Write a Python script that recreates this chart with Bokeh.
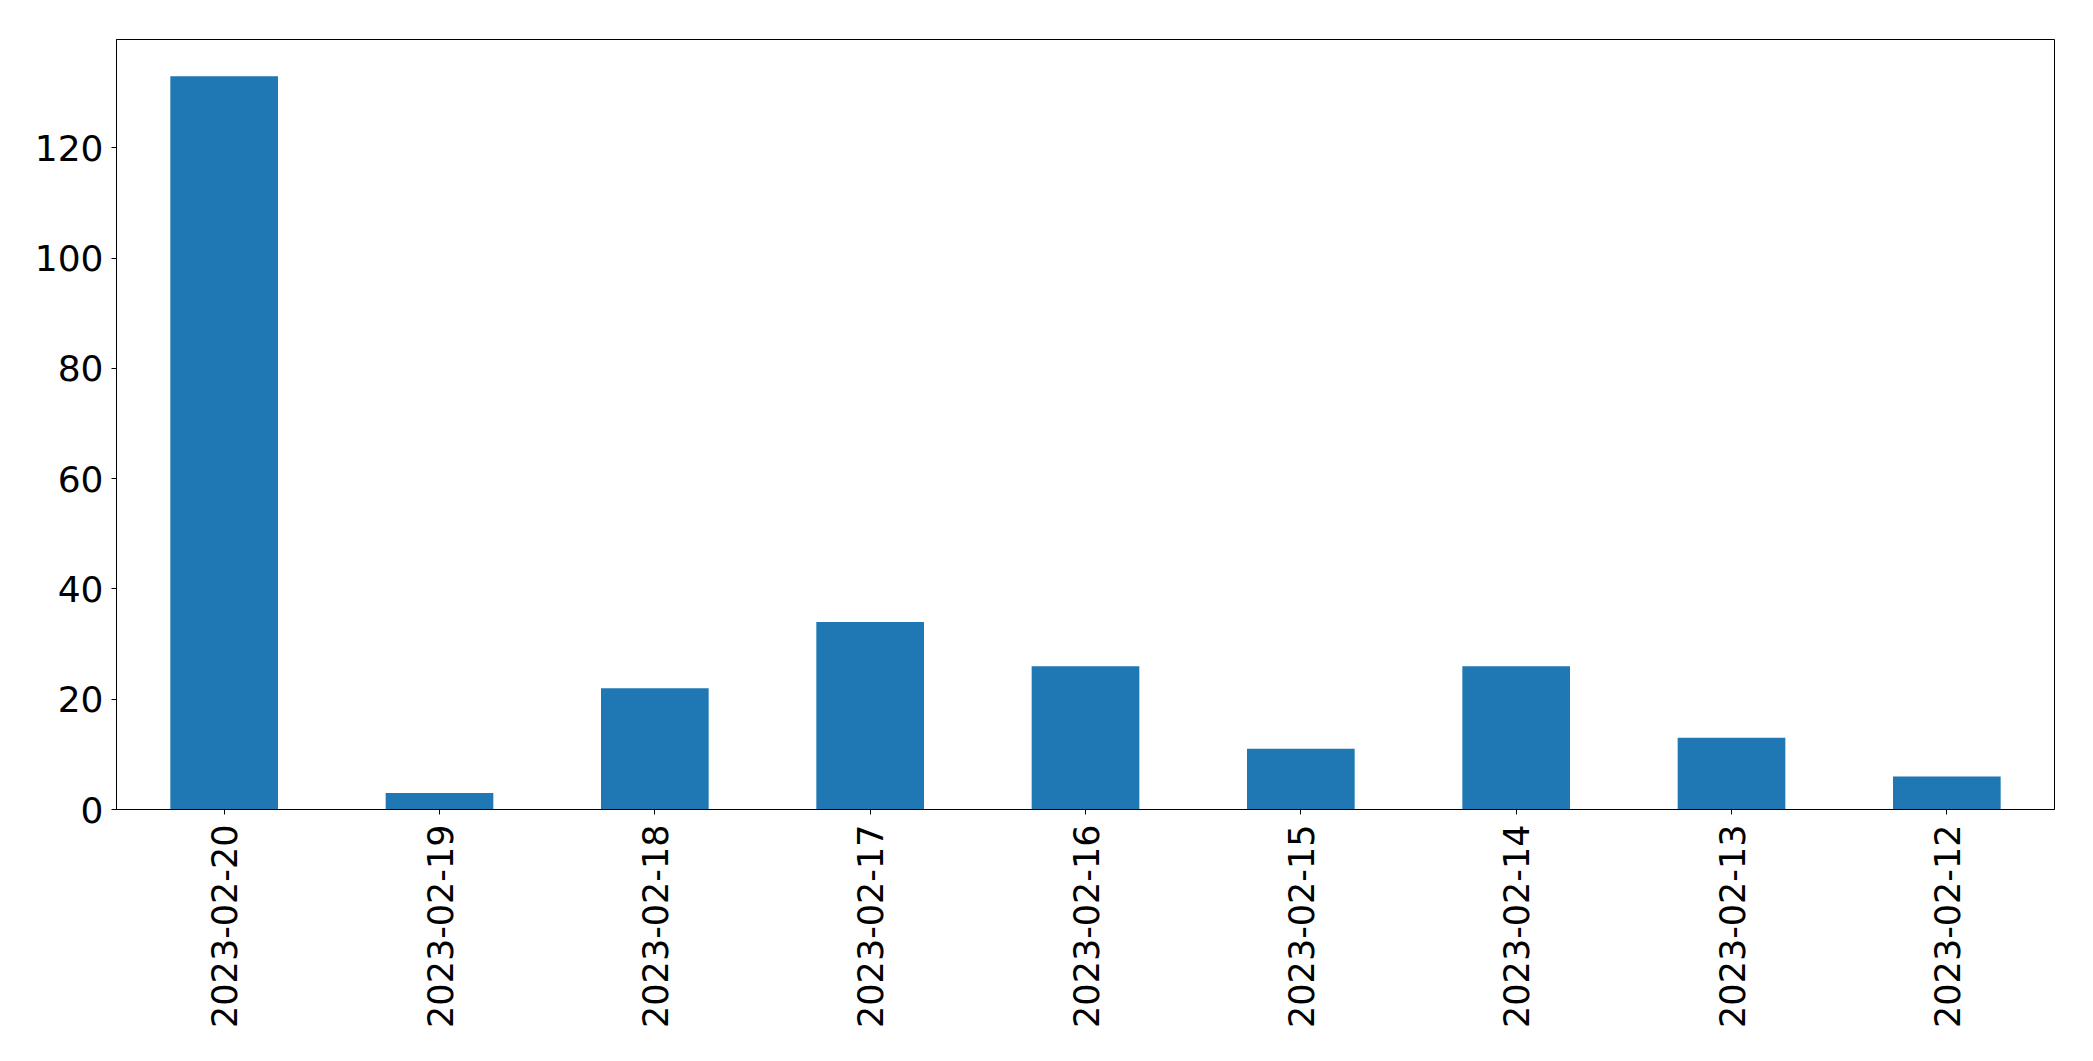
import math
from bokeh.plotting import figure
from bokeh.models import ColumnDataSource, FixedTicker, Range1d, FactorRange
from bokeh.embed import file_html
from bokeh.resources import INLINE

dates = ["2023-02-20", "2023-02-19", "2023-02-18", "2023-02-17", "2023-02-16",
         "2023-02-15", "2023-02-14", "2023-02-13", "2023-02-12"]
counts = [133, 3, 22, 34, 26, 11, 26, 13, 6]
y_ticks = [0, 20, 40, 60, 80, 100, 120]

source = ColumnDataSource(data=dict(date=dates, count=counts))

p = figure(
    x_range=FactorRange(factors=dates, range_padding=0),
    y_range=Range1d(0, max(counts) * 1.05),
    frame_width=1938, frame_height=770,
    min_border_left=116, min_border_top=39, min_border_right=31, min_border_bottom=10,
    output_backend="svg", toolbar_location=None,
)

p.vbar(x="date", top="count", width=0.5, source=source,
       fill_color="#1f77b4", line_color=None)

p.xgrid.visible = False
p.ygrid.visible = False
p.outline_line_color = "black"
p.outline_line_alpha = 1.0
p.outline_line_width = 1

p.yaxis.ticker = FixedTicker(ticks=y_ticks)
p.yaxis.minor_tick_line_color = None

for ax in (p.xaxis, p.yaxis):
    ax.axis_line_color = "black"
    ax.major_tick_line_color = "black"
    ax.major_tick_in = 0
    ax.major_tick_out = 5
    ax.major_label_text_font = "DejaVu Sans"
    ax.major_label_text_color = "black"

p.yaxis.major_label_text_font_size = "36px"
p.yaxis.major_label_standoff = 8
p.xaxis.major_label_text_font_size = "35px"
p.xaxis.major_label_orientation = math.pi / 2
p.xaxis.major_label_standoff = 10

open("out.html", "w").write(file_html(p, INLINE))
